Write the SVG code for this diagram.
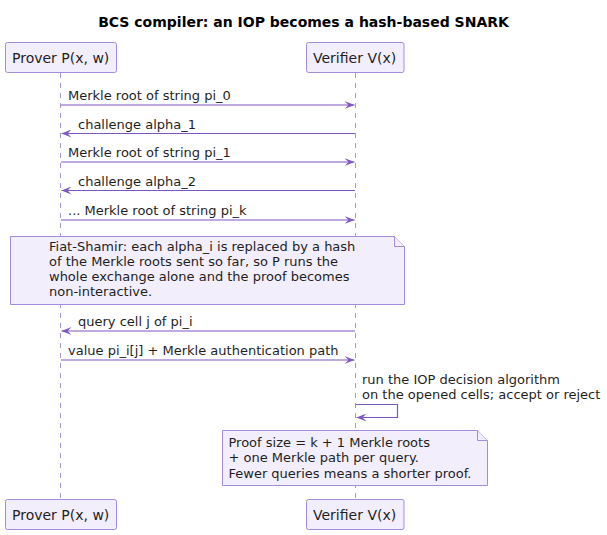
<svg xmlns="http://www.w3.org/2000/svg" width="607" height="535" viewBox="0 0 607 535">
<style>
text{font-family:"DejaVu Sans","Liberation Sans",sans-serif;fill:#1f1f1f}
.t{font-size:14px;font-weight:bold;fill:#000}
.p{font-size:14px}
.m{font-size:13px}
.box{fill:#F2EEFB;stroke:#A38DD8;stroke-width:1}
.life{stroke:#A895D9;stroke-width:1;stroke-dasharray:5,5;fill:none}
.msg{stroke:#7E57C2;stroke-width:1.2;fill:none}
.note{fill:#F2EEFB;stroke:#A38DD8;stroke-width:1}
</style>
<defs>
<marker id="ah" viewBox="0 0 10 8" refX="10" refY="4" markerWidth="10" markerHeight="8" markerUnits="userSpaceOnUse" orient="auto">
<path d="M0,0 L10,4 L0,8 L4,4 Z" fill="#7E57C2"/>
</marker>
</defs>
<rect width="607" height="535" fill="#fff"/>
<text class="t" x="303.5" y="27" text-anchor="middle">BCS compiler: an IOP becomes a hash-based SNARK</text>
<g id="lifelines">
<line class="life" x1="60.5" y1="73" x2="60.5" y2="499"/>
<line class="life" x1="355.5" y1="73" x2="355.5" y2="499"/>
</g>
<g id="prover">
<rect class="box" x="5.5" y="42.5" width="111" height="30" rx="2"/>
<text class="p" x="12" y="62.5">Prover P(x, w)</text>
</g>
<g id="verifier">
<rect class="box" x="306.5" y="42.5" width="97.5" height="30" rx="2"/>
<text class="p" x="313" y="62.5">Verifier V(x)</text>
</g>
<g id="prover-bottom">
<rect class="box" x="5.5" y="499.5" width="111" height="30" rx="2"/>
<text class="p" x="12" y="519.5">Prover P(x, w)</text>
</g>
<g id="verifier-bottom">
<rect class="box" x="306.5" y="499.5" width="97.5" height="30" rx="2"/>
<text class="p" x="313" y="519.5">Verifier V(x)</text>
</g>
<g id="connectors">
<line class="msg" x1="61" y1="105" x2="354.5" y2="105" marker-end="url(#ah)"/>
<text class="m" x="68" y="100">Merkle root of string pi_0</text>
<line class="msg" x1="355" y1="133.5" x2="61.5" y2="133.5" marker-end="url(#ah)"/>
<text class="m" x="78" y="128.5">challenge alpha_1</text>
<line class="msg" x1="61" y1="162" x2="354.5" y2="162" marker-end="url(#ah)"/>
<text class="m" x="68" y="157">Merkle root of string pi_1</text>
<line class="msg" x1="355" y1="190.5" x2="61.5" y2="190.5" marker-end="url(#ah)"/>
<text class="m" x="78" y="185.5">challenge alpha_2</text>
<line class="msg" x1="61" y1="220" x2="354.5" y2="220" marker-end="url(#ah)"/>
<text class="m" x="68" y="215">... Merkle root of string pi_k</text>
<line class="msg" x1="355" y1="331" x2="61.5" y2="331" marker-end="url(#ah)"/>
<text class="m" x="78" y="326">query cell j of pi_i</text>
<line class="msg" x1="61" y1="360" x2="354.5" y2="360" marker-end="url(#ah)"/>
<text class="m" x="68" y="355">value pi_i[j] + Merkle authentication path</text>
<path class="msg" d="M355.5,404.5 H397.5 V417.5 H356.5" marker-end="url(#ah)"/>
<text class="m" x="362" y="384">run the IOP decision algorithm</text>
<text class="m" x="362" y="399">on the opened cells; accept or reject</text>
</g>
<g id="note-fiat-shamir">
<path class="note" d="M10.5,236.5 H394.5 L404.5,246.5 V304.5 H10.5 Z"/>
<path class="note" d="M394.5,236.5 V246.5 H404.5"/>
<text class="m" x="49" y="251">Fiat-Shamir: each alpha_i is replaced by a hash</text>
<text class="m" x="49" y="266">of the Merkle roots sent so far, so P runs the</text>
<text class="m" x="49" y="281">whole exchange alone and the proof becomes</text>
<text class="m" x="49" y="296">non-interactive.</text>
</g>
<g id="note-proof-size">
<path class="note" d="M222.5,430.5 H477.5 L487.5,440.5 V485.5 H222.5 Z"/>
<path class="note" d="M477.5,430.5 V440.5 H487.5"/>
<text class="m" x="228.5" y="446.5">Proof size = k + 1 Merkle roots</text>
<text class="m" x="228.5" y="462.3">+ one Merkle path per query.</text>
<text class="m" x="228.5" y="478">Fewer queries means a shorter proof.</text>
</g>
</svg>
